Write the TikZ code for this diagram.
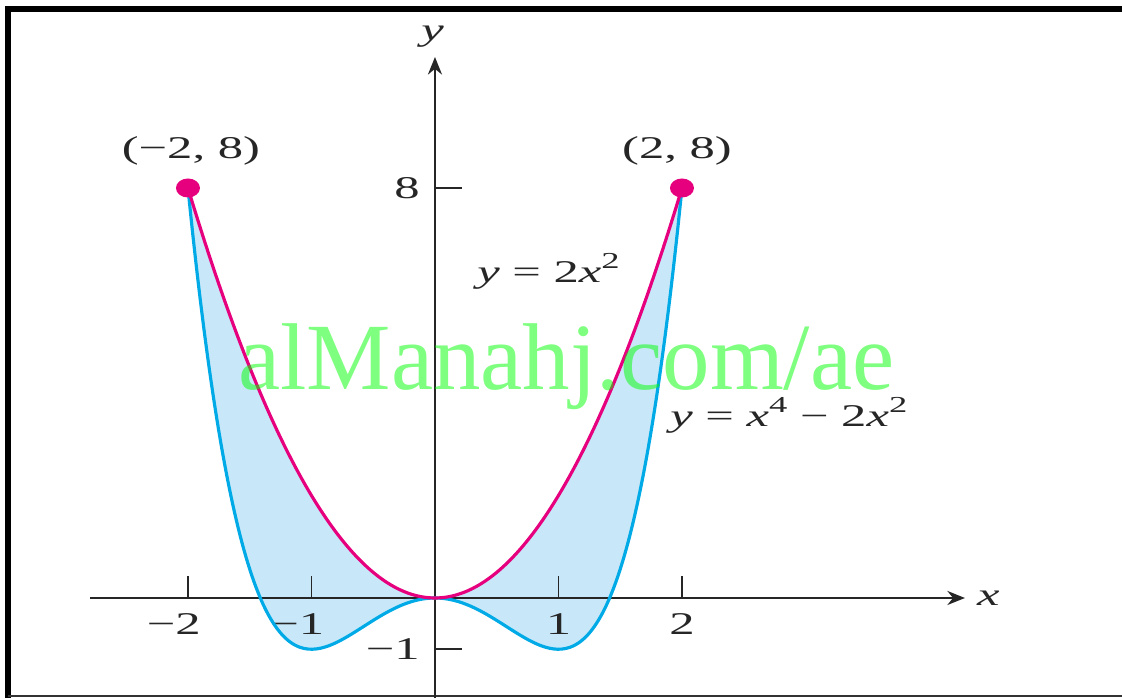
\documentclass[tikz,border=0pt]{standalone}
\usepackage{fontspec}
\setmainfont{Liberation Serif}
\newfontfamily\etqfont[FakeStretch=1.6]{Liberation Serif}
\usetikzlibrary{arrows.meta}
\definecolor{rosa}{RGB}{230,0,126}
\definecolor{celeste}{RGB}{0,170,230}
\definecolor{relleno}{RGB}{200,232,250}
\definecolor{verde}{RGB}{0,255,0}

\begin{document}
\begin{tikzpicture}[x=2.47cm, y=1.025cm, every node/.style={inner sep=0pt},
  eje/.style={line width=1.1pt, draw=black!85, -{Stealth[length=10pt, width=8pt]}},
  marca/.style={line width=1.1pt, draw=black!85},
  etq/.style={font=\etqfont\fontsize{18}{20}\selectfont, text=black!85},
  curva/.style={line width=1.8pt, line join=round, smooth, samples=120, domain=-2:2},
  sup/.style={}]
\useasboundingbox (-3.522,-1.951) rectangle (5.563,11.668);
\draw[line width=0.12cm, miter limit=4] (-3.457,-2.1) -- (-3.457,11.493) -- (5.6,11.493);
\draw[line width=0.04cm, black!80] (-3.457,-1.922) -- (5.6,-1.922);
\coordinate (A) at (-2,8); \coordinate (B) at (2,8); \coordinate (O) at (0,0);
\coordinate (xini) at (-2.793,0); \coordinate (xfin) at (4.291,0);
\coordinate (yini) at (0,-1.96); \coordinate (yfin) at (0,10.556);
\fill[relleno] plot[smooth, samples=120, domain=-2:2] (\x,{2*\x*\x})
  -- plot[smooth, samples=120, domain=2:-2] (\x,{\x*\x*\x*\x-2*\x*\x}) -- cycle;
\draw[eje] (xini) -- (xfin); \draw[eje] (yini) -- (yfin);
\foreach \t/\lab in {-2/{\llap{−}2}, -1/{\llap{−}1}, 1/1, 2/2} {
  \draw[marca] (\t,0) -- (\t,0.43);
  \node[etq] (tx\t) at (\t,-0.5) {\lab};
}
\draw[marca] (0,8) -- (0.22,8); \draw[marca] (0,-1) -- (0.22,-1);
\node[etq, anchor=east] (ty8) at (-0.12,8) {8};
\node[etq, anchor=east] (tym1) at (-0.12,-1) {−1};
\node[etq, font=\etqfont\itshape\fontsize{18}{20}\selectfont] (xlab) at (4.48,0) {x};
\node[etq, font=\etqfont\itshape\fontsize{18}{20}\selectfont] (ylab) at (-0.02,10.95) {y};
\draw[curva, celeste] plot (\x,{\x*\x*\x*\x-2*\x*\x});
\draw[curva, rosa] plot (\x,{2*\x*\x});
\fill[rosa] (A) ellipse [x radius=0.24cm, y radius=0.19cm];
\fill[rosa] (B) ellipse [x radius=0.24cm, y radius=0.19cm];
\node[etq] (pA) at (-1.976,8.72) {(−2, 8)};
\node[etq] (pB) at (1.96,8.72) {(2, 8)};
\node[etq, anchor=base west] (fpar) at (0.34,6.15)
  {\textit{y}\hspace{0.4em}=\hspace{0.4em}2\textit{x}\raisebox{0.45em}{\fontsize{13}{13}\selectfont 2}};
\node[etq, anchor=base west] (fcua) at (1.903,3.34)
  {\textit{y}\hspace{0.4em}=\hspace{0.4em}\textit{x}\raisebox{0.45em}{\fontsize{13}{13}\selectfont 4}\hspace{0.4em}−\hspace{0.4em}2\textit{x}\raisebox{0.45em}{\fontsize{13}{13}\selectfont 2}};
\node[anchor=base west, font=\fontsize{54}{60}\selectfont, text=verde, text opacity=0.5] (marcaagua) at (-1.595,4.06) {alManahj.com/ae};
\end{tikzpicture}
\end{document}
